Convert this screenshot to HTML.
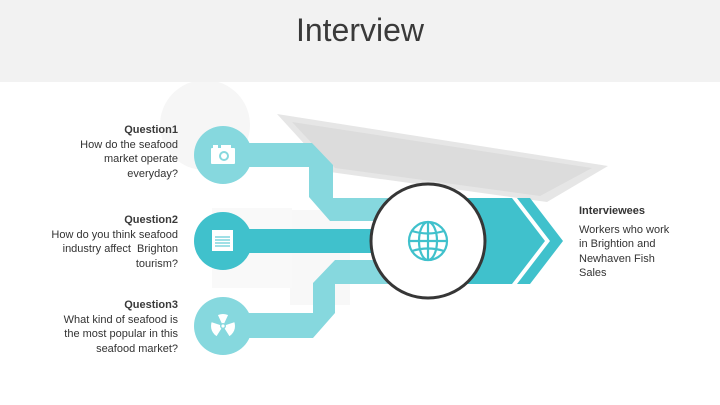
<!DOCTYPE html>
<html><head><meta charset="utf-8"><style>
html,body{margin:0;padding:0}
body{width:720px;height:405px;position:relative;overflow:hidden;background:#fff;font-family:"Liberation Sans",sans-serif}
.bar{position:absolute;left:0;top:0;width:720px;height:82px;background:#f2f2f2}
.title{position:absolute;left:0;width:720px;top:12px;text-align:center;font-size:32px;color:#3a3a3a}
.q{position:absolute;right:542px;text-align:right;font-size:11px;line-height:14.5px;color:#333}
.q b{color:#3a3a3a}
.r{position:absolute;left:579px;top:204px;font-size:11px;line-height:14.5px;color:#333}
</style></head><body>
<svg width="720" height="405" style="position:absolute;left:0;top:0">
<!-- faint background -->
<circle cx="205" cy="125" r="45" fill="#f6f6f6"/>
<polygon points="277,114 608,166 547,202 330,172" fill="#e6e6e6"/>
<polygon points="292,122 592,168 540,196 335,168" fill="#dcdcdc"/>
<rect x="290" y="210" width="60" height="95" fill="#f8f8f8"/>
<rect x="212" y="208" width="80" height="80" fill="#f9f9f9"/>
<!-- upper band -->
<polygon points="223,143 312,143 333,165 333,198 420,198 420,221 330,221 309,197 309,167 223,167" fill="#86d8de"/>
<!-- lower band -->
<polygon points="223,313 313,313 313,283 335,260 420,260 420,284 335,284 335,313 313,338 223,338" fill="#86d8de"/>
<!-- big arrow band -->
<polygon points="400,198 512,198 545,241 512,284 400,284" fill="#40c1cc"/>
<polygon points="517,198 530,198 563,241 530,284 517,284 550,241" fill="#40c1cc"/>
<!-- middle band -->
<rect x="223" y="229" width="200" height="24" fill="#40c1cc"/>
<!-- circles -->
<circle cx="223" cy="155" r="29" fill="#86d8de"/>
<circle cx="223" cy="241" r="29" fill="#40c1cc"/>
<circle cx="223" cy="326" r="29" fill="#86d8de"/>
<!-- camera -->
<rect x="211" y="148" width="24" height="16" rx="1" fill="#fff"/>
<rect x="213" y="145" width="5" height="4" fill="#fff"/>
<rect x="221" y="145" width="10" height="4" fill="#fff"/>
<circle cx="224" cy="156" r="5" fill="#86d8de"/><circle cx="224" cy="156" r="3" fill="#fff"/>
<!-- notepad -->
<rect x="212" y="230" width="21" height="21" fill="#fff"/>
<g stroke="#40c1cc" stroke-width="1"><line x1="215" y1="237" x2="230" y2="237"/><line x1="215" y1="240" x2="230" y2="240"/><line x1="215" y1="243" x2="230" y2="243"/><line x1="215" y1="246" x2="230" y2="246"/></g>
<!-- radiation -->
<circle cx="223" cy="326" r="12" fill="#fff"/>
<g fill="#86d8de"><polygon points="223,326 211,322 213,316 217,313"/><polygon points="223,326 229,313 233,316 235,322"/><polygon points="223,326 230,337 223,339 216,337"/></g>
<circle cx="223" cy="326" r="3" fill="#86d8de"/><circle cx="223" cy="326" r="1.6" fill="#fff"/>
<!-- big circle -->
<circle cx="428" cy="241" r="57" fill="#fff" stroke="#363636" stroke-width="3"/>
<g fill="none" stroke="#40c1cc" stroke-width="2.2">
<circle cx="428" cy="241" r="19"/>
<ellipse cx="428" cy="241" rx="9" ry="19"/>
<line x1="428" y1="222" x2="428" y2="260"/>
<line x1="409" y1="241" x2="447" y2="241"/>
<path d="M412 231 Q428 236 444 231 M412 251 Q428 246 444 251"/>
</g>
</svg>
<div class="bar"></div>
<div class="title">Interview</div>
<div class="q" style="top:123px"><b>Question1</b><br>How do the seafood<br>market operate<br>everyday?</div>
<div class="q" style="top:213px"><b>Question2</b><br>How do you think seafood<br>industry affect&nbsp; Brighton<br>tourism?</div>
<div class="q" style="top:298px"><b>Question3</b><br>What kind of seafood is<br>the most popular in this<br>seafood market?</div>
<div class="r"><b>Interviewees</b><div style="margin-top:4px">Workers who work<br>in Brightion and<br>Newhaven Fish<br>Sales</div></div>
</body></html>
